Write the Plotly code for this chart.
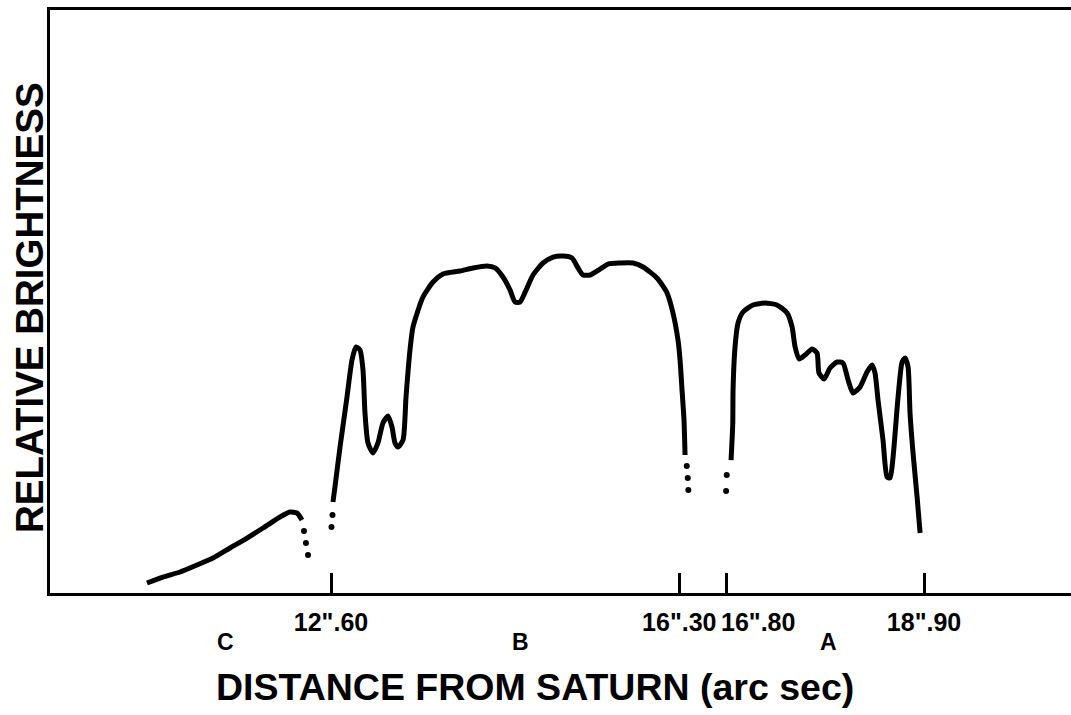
import plotly.graph_objects as go

# Distance from Saturn (arc sec) and relative brightness (0-100, arbitrary)
c_ring_x = [10.645, 10.815, 10.996, 11.176, 11.346, 11.527, 11.708, 11.878, 12.058, 12.164, 12.239, 12.292]
c_ring_y = [1.72, 2.74, 3.60, 4.80, 6.00, 7.72, 9.43, 11.15, 13.04, 13.89, 13.72, 12.52]
c_dots_x = [12.313, 12.334, 12.356]
c_dots_y = [10.63, 8.58, 6.52]

b_dots_x = [12.605, 12.616]
b_dots_y = [11.32, 13.38]
b_ring_x = [12.621, 12.642, 12.696, 12.770, 12.823, 12.866, 12.908, 12.940, 12.961, 12.993,
            13.046, 13.099, 13.152, 13.206, 13.248, 13.280, 13.312, 13.365, 13.397, 13.439,
            13.471, 13.577, 13.684, 13.790, 13.970, 14.109, 14.257, 14.342, 14.427, 14.502,
            14.555, 14.608, 14.682, 14.746, 14.852, 14.959, 15.065, 15.160, 15.224, 15.277,
            15.352, 15.458, 15.543, 15.670, 15.808, 15.915, 16.063, 16.170, 16.233, 16.286,
            16.308, 16.329, 16.350, 16.361]
b_ring_y = [15.61, 18.18, 25.04, 33.62, 39.97, 42.20, 41.68, 38.25, 30.87, 25.73,
            24.01, 25.73, 29.16, 30.36, 28.47, 25.73, 25.04, 26.24, 33.62, 41.68,
            45.63, 50.77, 53.34, 54.72, 55.23, 55.75, 56.09, 55.75, 54.20, 51.97,
            49.91, 49.91, 52.32, 54.55, 56.60, 57.63, 57.80, 57.46, 55.75, 54.55,
            54.55, 55.57, 56.43, 56.60, 56.60, 55.92, 54.03, 51.46, 48.03, 43.40,
            39.97, 34.82, 29.67, 23.67]
b_end_dots_x = [16.379, 16.390, 16.396]
b_end_dots_y = [21.78, 19.73, 17.67]

a_dots_x = [16.797, 16.804]
a_dots_y = [17.50, 20.24]
a_ring_x = [16.850, 16.868, 16.871, 16.892, 16.924, 16.977, 17.083, 17.211, 17.338, 17.445,
            17.498, 17.530, 17.572, 17.636, 17.710, 17.763, 17.784, 17.838, 17.901, 17.976,
            18.039, 18.093, 18.146, 18.220, 18.294, 18.348, 18.379, 18.411, 18.464, 18.507,
            18.539, 18.571, 18.624, 18.667, 18.698, 18.730, 18.751, 18.783, 18.826, 18.858]
a_ring_y = [22.81, 29.16, 34.82, 42.20, 46.31, 48.20, 49.40, 49.74, 49.40, 48.03,
            45.63, 42.20, 40.14, 40.82, 41.85, 41.17, 37.74, 36.71, 38.59, 39.62,
            39.45, 36.54, 34.31, 35.33, 37.91, 39.11, 37.74, 33.10, 26.24, 19.90,
            19.73, 23.33, 33.62, 39.62, 40.31, 38.77, 30.87, 24.01, 16.47, 10.29]

tick_vals = [12.60, 16.30, 16.80, 18.90]
tick_text = ['12".60', '16".30', '', '18".90']
side_tick_val = 16.80
side_tick_text = '16".80'

ring_names = ["C", "B", "A"]
ring_label_x = [11.474, 14.608, 17.880]

FONT = "Liberation Sans"
fig = go.Figure()

for xs, ys in [(c_ring_x, c_ring_y), (b_ring_x, b_ring_y), (a_ring_x, a_ring_y)]:
    fig.add_trace(go.Scatter(x=xs, y=ys, mode="lines",
                             line=dict(color="black", width=5, shape="spline", smoothing=0.6),
                             showlegend=False, hoverinfo="skip"))

for xs, ys in [(c_dots_x, c_dots_y), (b_dots_x, b_dots_y), (b_end_dots_x, b_end_dots_y), (a_dots_x, a_dots_y)]:
    fig.add_trace(go.Scatter(x=xs, y=ys, mode="markers",
                             marker=dict(color="black", size=6),
                             showlegend=False, hoverinfo="skip"))

# label of the 16".80 tick, set to the right of its tick as in the original
fig.add_annotation(x=side_tick_val, xref="x", y=-0.0497, yref="paper", text=side_tick_text,
                   showarrow=False, xanchor="left", yanchor="middle", xshift=-7,
                   font=dict(family=FONT, size=25, color="black", weight="bold"))

for name, xv in zip(ring_names, ring_label_x):
    fig.add_annotation(x=xv, xref="x", y=-0.084, yref="paper", text=name, showarrow=False,
                       xanchor="center", yanchor="middle",
                       font=dict(family=FONT, size=23, color="black", weight="bold"))

fig.add_annotation(x=0.475, xref="paper", y=-0.161, yref="paper",
                   text="DISTANCE FROM SATURN (arc sec)", showarrow=False,
                   xanchor="center", yanchor="middle",
                   font=dict(family=FONT, size=37.5, color="black", weight="bold"))

fig.add_annotation(x=-0.0196, xref="paper", y=0.4906, yref="paper",
                   text="RELATIVE BRIGHTNESS", showarrow=False, textangle=-90,
                   xanchor="center", yanchor="middle",
                   font=dict(family=FONT, size=38.5, color="black", weight="bold"))

fig.update_layout(
    width=1071, height=715,
    margin=dict(l=50, r=0, t=10, b=122),
    paper_bgcolor="white", plot_bgcolor="white",
    xaxis=dict(range=[9.615, 20.461], showgrid=False, zeroline=False, automargin=False,
               showline=True, linecolor="black", linewidth=3, mirror=True,
               ticks="inside", ticklen=20, tickwidth=2.5, tickcolor="black",
               tickvals=tick_vals, ticktext=tick_text, tickangle=0, ticklabelstandoff=5,
               tickfont=dict(family=FONT, size=25, color="black", weight="bold")),
    yaxis=dict(range=[0, 100], showgrid=False, zeroline=False, automargin=False,
               showline=True, linecolor="black", linewidth=3, mirror=False,
               showticklabels=False, ticks=""),
)

fig.write_html("out.html", config={"displayModeBar": False},
               post_script="document.body.style.margin='0px';document.body.style.overflow='hidden';")
